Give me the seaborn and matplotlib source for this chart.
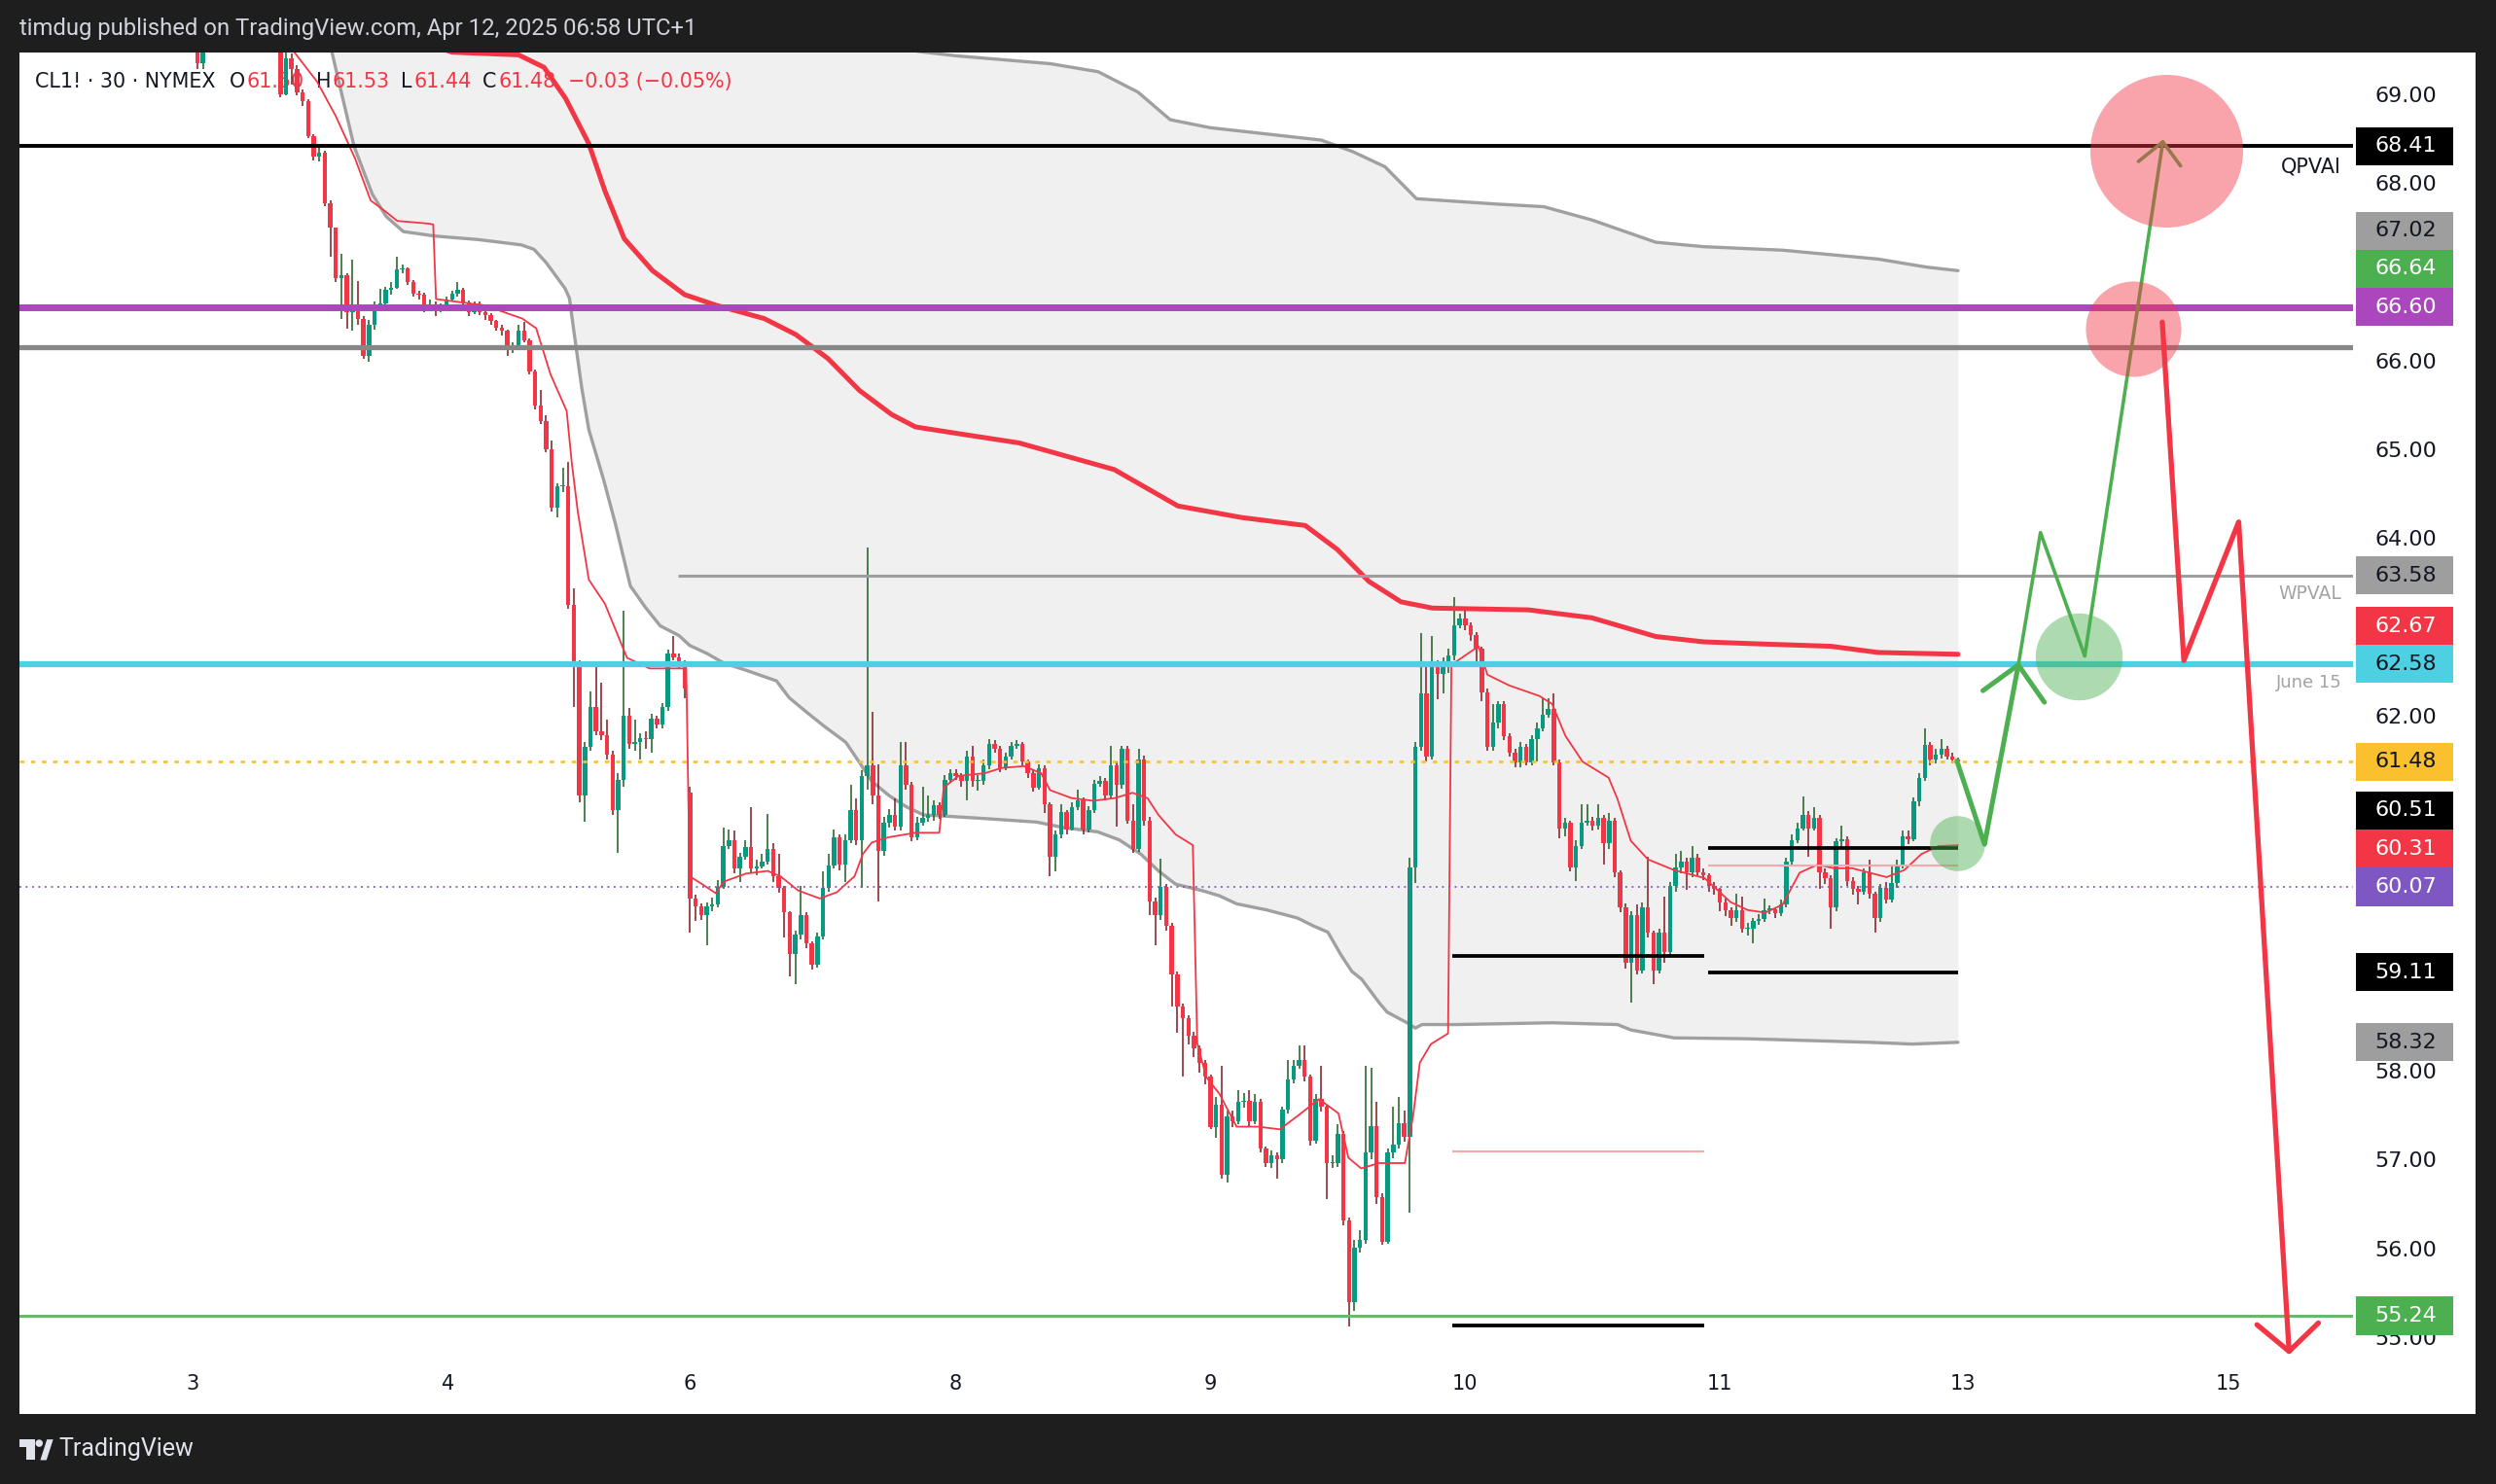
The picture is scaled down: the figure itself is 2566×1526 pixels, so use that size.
import numpy as np
import pandas as pd
import matplotlib
matplotlib.use("Agg")
import matplotlib.pyplot as plt
import seaborn as sns
from matplotlib.patches import Rectangle, Polygon, Ellipse
from matplotlib.transforms import blended_transform_factory

sns.set_style("white")
plt.rcParams['font.family'] = ['DejaVu Sans']
NARROW = ['Liberation Sans Narrow', 'Roboto', 'DejaVu Sans']

# ---- CL1! 30 min candles (bar index 0 .. 318) ----
first_open = 69.48
session_opens = {89: 61.13}   # weekend gap
closes = [
    69.35, 69.48, 69.62, 69.75, 69.85, 69.95, 70.05, 69.98, 69.90, 69.96,
    69.88, 69.80, 69.84, 69.72, 69.62, 69.00, 69.40, 69.28, 69.02, 68.92,
    68.53, 68.29, 68.34, 67.77, 67.49, 66.93, 66.96, 66.54, 66.57, 66.47,
    66.05, 66.40, 66.61, 66.64, 66.79, 66.82, 67.02, 67.03, 66.88, 66.75,
    66.74, 66.60, 66.63, 66.58, 66.60, 66.68, 66.75, 66.79, 66.65, 66.54,
    66.61, 66.54, 66.51, 66.44, 66.37, 66.33, 66.12, 66.15, 66.33, 66.23,
    65.87, 65.49, 65.32, 65.00, 64.34, 64.58, 64.58, 63.25, 62.59, 61.10,
    61.65, 62.10, 61.82, 61.78, 61.56, 60.93, 61.27, 62.00, 61.68, 61.70,
    61.75, 61.73, 61.96, 61.90, 62.10, 62.70, 62.66, 62.58, 62.30, 59.94,
    59.85, 59.75, 59.85, 59.87, 60.07, 60.53, 60.60, 60.28, 60.41, 60.52,
    60.28, 60.30, 60.35, 60.50, 60.19, 60.06, 59.78, 59.31, 59.53, 59.75,
    59.44, 59.19, 59.51, 60.06, 60.31, 60.63, 60.32, 60.60, 60.94, 60.60,
    61.32, 61.44, 61.10, 60.47, 60.79, 60.88, 60.75, 61.44, 61.22, 60.63,
    60.79, 60.85, 60.88, 60.99, 60.88, 61.27, 61.35, 61.32, 61.26, 61.54,
    61.26, 61.26, 61.44, 61.68, 61.63, 61.41, 61.54, 61.66, 61.68, 61.48,
    61.35, 61.19, 61.41, 61.00, 60.41, 60.66, 60.91, 60.72, 60.97, 61.04,
    60.72, 60.94, 61.23, 61.26, 61.10, 61.44, 61.22, 61.63, 60.82, 60.50,
    61.51, 60.82, 59.91, 59.75, 60.07, 59.63, 59.09, 58.72, 58.59, 58.40,
    58.25, 58.09, 57.93, 57.37, 57.62, 56.83, 57.49, 57.43, 57.65, 57.66,
    57.43, 57.65, 57.12, 56.96, 57.05, 57.00, 57.56, 57.90, 58.06, 58.12,
    57.93, 57.21, 57.68, 57.59, 56.96, 56.96, 57.29, 56.31, 55.39, 56.01,
    56.10, 57.08, 57.38, 56.58, 56.07, 57.08, 57.17, 57.41, 57.26, 60.29,
    61.65, 62.25, 61.54, 62.55, 62.47, 62.57, 62.68, 63.02, 63.09, 63.02,
    62.91, 62.75, 62.26, 61.65, 61.92, 62.13, 61.77, 61.58, 61.47, 61.65,
    61.47, 61.74, 61.86, 62.01, 62.07, 61.47, 60.73, 60.79, 60.29, 60.53,
    60.79, 60.82, 60.76, 60.85, 60.56, 60.82, 60.23, 59.84, 59.22, 59.75,
    59.13, 59.84, 59.55, 59.13, 59.55, 59.34, 60.08, 60.29, 60.36, 60.23,
    60.40, 60.23, 60.20, 60.08, 60.05, 59.90, 59.81, 59.72, 59.81, 59.60,
    59.60, 59.69, 59.71, 59.81, 59.82, 59.77, 59.87, 60.36, 60.60, 60.73,
    60.88, 60.73, 60.85, 60.23, 60.17, 59.84, 60.58, 60.61, 60.14, 60.05,
    60.02, 60.23, 59.99, 59.72, 60.06, 59.93, 60.11, 60.32, 60.64, 60.61,
    61.03, 61.30, 61.67, 61.50, 61.56, 61.62, 61.54, 61.50, 61.48,
]
highs = [
    69.55, 69.55, 69.70, 69.82, 69.92, 70.05, 70.12, 70.10, 70.00, 70.04,
    69.98, 69.92, 69.90, 69.86, 69.75, 69.62, 69.50, 69.45, 69.32, 69.05,
    68.94, 68.55, 68.40, 68.36, 67.80, 67.50, 67.20, 66.98, 67.13, 66.89,
    66.50, 66.45, 66.66, 66.80, 66.83, 66.88, 67.17, 67.08, 67.05, 66.90,
    66.78, 66.76, 66.68, 66.66, 66.64, 66.72, 66.78, 66.88, 66.82, 66.67,
    66.66, 66.66, 66.57, 66.53, 66.46, 66.40, 66.35, 66.20, 66.40, 66.43,
    66.25, 65.90, 65.67, 65.38, 65.10, 64.62, 64.79, 64.86, 63.43, 62.62,
    61.70, 62.27, 62.58, 62.37, 61.95, 61.60, 61.35, 63.18, 62.08, 61.95,
    61.80, 61.82, 62.02, 62.00, 62.14, 62.74, 62.90, 62.70, 62.62, 61.20,
    59.98, 59.88, 59.90, 59.95, 60.15, 60.74, 60.72, 60.70, 60.45, 60.60,
    60.97, 60.38, 60.44, 60.89, 60.56, 60.44, 60.08, 59.80, 59.58, 60.08,
    59.78, 59.46, 59.55, 60.25, 60.44, 60.72, 60.66, 60.66, 61.22, 61.07,
    61.38, 63.89, 62.04, 61.45, 60.86, 60.95, 61.07, 61.70, 61.70, 61.25,
    60.86, 61.20, 61.10, 61.05, 61.02, 61.33, 61.40, 61.40, 61.35, 61.60,
    61.66, 61.33, 61.50, 61.73, 61.72, 61.66, 61.58, 61.70, 61.72, 61.70,
    61.50, 61.38, 61.45, 61.44, 61.02, 60.70, 61.00, 60.94, 61.02, 61.16,
    61.08, 60.98, 61.28, 61.32, 61.30, 61.66, 61.48, 61.66, 61.66, 61.00,
    61.63, 61.55, 60.86, 59.95, 60.39, 60.10, 59.66, 59.12, 58.76, 58.62,
    58.44, 58.28, 58.12, 57.96, 57.70, 58.06, 57.55, 57.55, 57.78, 57.75,
    57.78, 57.74, 57.68, 57.15, 57.10, 57.08, 57.60, 58.12, 58.12, 58.28,
    58.28, 57.96, 57.74, 58.06, 57.62, 57.05, 57.40, 57.32, 56.35, 56.10,
    56.20, 58.06, 58.03, 57.65, 56.62, 57.12, 57.60, 57.70, 57.55, 60.40,
    61.70, 62.93, 62.55, 62.90, 62.62, 62.66, 62.75, 63.33, 63.15, 63.20,
    63.05, 62.94, 62.78, 62.30, 62.13, 62.16, 62.16, 61.80, 61.62, 61.70,
    61.68, 61.78, 61.92, 62.19, 62.20, 62.25, 61.50, 60.85, 60.82, 60.60,
    61.00, 61.00, 60.86, 61.00, 60.88, 60.90, 60.85, 60.26, 59.88, 59.80,
    59.87, 59.90, 60.41, 59.58, 59.60, 59.96, 60.12, 60.44, 60.47, 60.40,
    60.53, 60.44, 60.28, 60.22, 60.12, 60.06, 59.94, 59.84, 59.99, 59.96,
    59.66, 59.72, 59.76, 59.94, 59.86, 59.84, 59.93, 60.40, 60.66, 60.79,
    61.09, 60.92, 60.97, 60.88, 60.28, 60.20, 60.62, 60.76, 60.64, 60.18,
    60.08, 60.28, 60.38, 60.02, 60.10, 60.12, 60.32, 60.38, 60.70, 60.70,
    61.08, 61.35, 61.86, 61.70, 61.62, 61.74, 61.66, 61.58, 61.53,
]
lows = [
    69.28, 69.28, 69.47, 69.58, 69.70, 69.80, 69.90, 69.90, 69.82, 69.85,
    69.80, 69.72, 69.74, 69.65, 69.56, 68.96, 68.98, 69.10, 68.98, 68.86,
    68.50, 68.25, 68.24, 67.74, 67.17, 66.88, 66.47, 66.36, 66.33, 66.40,
    66.02, 65.98, 66.35, 66.55, 66.60, 66.74, 66.80, 66.98, 66.85, 66.72,
    66.68, 66.54, 66.56, 66.50, 66.54, 66.58, 66.66, 66.72, 66.62, 66.50,
    66.52, 66.51, 66.46, 66.40, 66.33, 66.28, 66.05, 66.08, 66.13, 66.20,
    65.84, 65.45, 65.28, 64.96, 64.30, 64.23, 64.52, 63.20, 62.10, 61.02,
    60.80, 61.60, 61.78, 61.72, 61.50, 60.88, 60.45, 61.20, 61.62, 61.60,
    61.50, 61.62, 61.58, 61.85, 61.85, 62.05, 62.62, 62.52, 62.20, 59.56,
    59.69, 59.70, 59.41, 59.80, 59.84, 60.05, 60.50, 60.22, 60.13, 60.38,
    60.22, 60.20, 60.28, 60.32, 60.12, 60.00, 59.50, 59.06, 58.97, 59.48,
    59.38, 59.14, 59.16, 59.48, 60.02, 60.28, 60.26, 60.13, 60.56, 60.54,
    60.06, 61.16, 61.00, 59.91, 60.42, 60.74, 60.70, 60.70, 61.16, 60.58,
    60.60, 60.76, 60.80, 60.82, 60.84, 60.86, 61.24, 61.28, 61.20, 61.04,
    61.20, 61.15, 61.22, 61.40, 61.58, 61.36, 61.38, 61.50, 61.62, 61.44,
    61.30, 61.14, 61.16, 60.90, 60.19, 60.25, 60.62, 60.66, 60.70, 60.94,
    60.66, 60.68, 60.90, 61.20, 61.05, 61.06, 60.75, 61.18, 60.78, 60.45,
    60.46, 60.76, 59.75, 59.41, 59.70, 59.58, 58.72, 58.43, 57.93, 58.30,
    58.15, 57.98, 57.85, 57.34, 57.24, 56.78, 56.74, 57.36, 57.40, 57.58,
    57.38, 57.40, 57.08, 56.92, 56.90, 56.78, 56.96, 57.52, 57.86, 58.02,
    57.88, 57.16, 57.18, 57.54, 56.55, 56.90, 56.92, 56.26, 55.12, 55.30,
    55.95, 56.05, 57.00, 56.50, 56.04, 56.05, 57.02, 57.12, 57.20, 56.40,
    60.11, 61.60, 61.48, 61.50, 62.18, 62.25, 62.48, 62.62, 62.98, 62.96,
    62.84, 62.57, 62.16, 61.60, 61.60, 61.85, 61.72, 61.54, 61.42, 61.42,
    61.44, 61.44, 61.48, 61.82, 61.98, 61.44, 60.62, 60.64, 60.24, 60.14,
    60.50, 60.76, 60.70, 60.72, 60.32, 60.50, 60.18, 59.78, 59.15, 58.77,
    59.08, 59.10, 59.50, 58.98, 59.10, 59.22, 59.30, 60.02, 60.22, 60.04,
    60.18, 60.20, 60.15, 60.02, 59.98, 59.80, 59.74, 59.63, 59.68, 59.56,
    59.52, 59.43, 59.64, 59.68, 59.76, 59.72, 59.74, 59.84, 60.30, 60.56,
    60.70, 60.41, 60.70, 60.05, 60.10, 59.60, 59.80, 60.52, 60.08, 59.98,
    59.87, 59.98, 59.94, 59.55, 59.68, 59.88, 59.90, 60.06, 60.28, 60.55,
    60.58, 60.98, 61.26, 61.44, 61.46, 61.52, 61.50, 61.46, 61.44,
]

# ---- indicator lines, (bar, price) vertices ----
session_vwap = [
    (16, 70.0), (17.5, 69.47), (21.6, 69.14), (25.0, 68.75), (28.5, 68.27), (31.3, 67.80),
    (33.9, 67.68), (36.1, 67.57), (41.7, 67.54), (42.6, 67.53), (43.1, 66.69), (51.8, 66.62),
    (58.7, 66.47), (61.2, 66.36), (63.8, 65.84), (66.7, 65.43), (67.6, 64.86), (68.7, 64.30),
    (70.7, 63.53), (73.6, 63.26), (77.6, 62.65), (81.7, 62.53), (88.3, 62.53), (88.9, 60.19),
    (91.2, 60.10), (93.6, 60.00), (95.1, 60.13), (99.1, 60.22), (103, 60.25), (105.3, 60.19),
    (108.5, 60.03), (112.4, 59.94), (115.5, 60.01), (118.7, 60.19), (120.2, 60.44), (121.8, 60.57),
    (124.9, 60.63), (129.7, 60.68), (134.0, 60.68), (134.8, 61.19), (137.5, 61.32), (142.2, 61.35),
    (145.3, 61.41), (149.3, 61.43), (152.4, 61.35), (154, 61.16), (157.9, 61.07), (161.8, 61.04),
    (165.7, 61.07), (168.9, 61.13), (171.6, 61.07), (173.6, 60.88), (176.7, 60.66), (179.8, 60.54),
    (180.6, 58.31), (182.2, 57.93), (184.6, 57.74), (187.7, 57.37), (191.6, 57.37), (195.5, 57.34),
    (198.7, 57.49), (202.6, 57.68), (206.1, 57.52), (207.9, 57.02), (210.2, 56.90), (213.4, 56.96),
    (218.1, 56.96), (219.6, 57.50), (220.8, 58.09), (222.8, 58.30), (225.9, 58.42), (226.5, 62.57),
    (231.4, 62.78), (233, 62.46), (236.9, 62.34), (242.4, 62.22), (244.7, 62.13), (247.1, 61.77),
    (250.2, 61.48), (254.9, 61.30), (256.5, 61.06), (258.9, 60.59), (262, 60.38), (266.7, 60.26),
    (272.2, 60.17), (276.9, 59.90), (280, 59.81), (283.2, 59.78), (286.3, 59.87), (289.4, 60.23),
    (292.6, 60.32), (295.7, 60.28), (298.9, 60.28), (302, 60.23), (305.1, 60.18), (308.3, 60.26),
    (311.4, 60.44), (314.5, 60.53), (318, 60.54),
]
anchored_vwap = [
    (40, 69.6), (46, 69.47), (58, 69.44), (62.6, 69.30), (66.5, 68.95), (70.7, 68.44),
    (73.6, 67.91), (77.1, 67.37), (82.2, 67.01), (88, 66.74), (93.7, 66.62), (102.4, 66.47),
    (108.1, 66.29), (113.9, 66.02), (119.6, 65.66), (125.4, 65.39), (129.7, 65.25), (136.9, 65.18),
    (148.4, 65.07), (165.6, 64.77), (177.1, 64.36), (188.6, 64.23), (200.1, 64.14), (205.9, 63.87),
    (211.6, 63.51), (217.4, 63.28), (223.1, 63.21), (240.4, 63.19), (251.9, 63.10), (263.4, 62.89),
    (272, 62.83), (280.6, 62.81), (295, 62.78), (303.6, 62.71), (318, 62.69),
]
band_upper = [
    (20, 71.0), (100, 70.2), (130.0, 69.48), (136.9, 69.43), (154.1, 69.34), (162.7, 69.25),
    (169.9, 69.02), (175.7, 68.71), (182.9, 68.62), (203, 68.48), (208.7, 68.35), (214.5, 68.18),
    (220.2, 67.82), (234.6, 67.76), (243.2, 67.73), (251.9, 67.58), (263.4, 67.33), (272, 67.28),
    (286.4, 67.24), (303.6, 67.14), (312.3, 67.05), (318, 67.01),
]
band_lower = [
    (20, 70.3), (24.3, 69.47), (28.3, 68.41), (31.6, 67.87), (34.1, 67.62), (37.2, 67.45),
    (42.8, 67.40), (50.7, 67.36), (58.5, 67.30), (60.8, 67.25), (63, 67.10), (66.4, 66.81),
    (67.2, 66.70), (68, 66.33), (69.4, 65.70),
    (70.7, 65.22), (73.4, 64.65), (75.5, 64.16), (78.2, 63.46), (80.9, 63.22), (83.6, 63.01),
    (87, 62.90), (88.9, 62.79), (92, 62.70), (95.1, 62.59), (99.1, 62.51), (104.6, 62.39),
    (106.9, 62.20), (110, 62.04), (113.2, 61.88), (117.1, 61.70), (119.5, 61.48), (121.8, 61.26),
    (124.9, 61.10), (128.1, 60.97), (131.2, 60.88), (134.4, 60.87), (142.2, 60.84), (151.6, 60.80),
    (156.3, 60.74), (162.6, 60.69), (166.5, 60.60), (170.4, 60.44), (173.6, 60.25), (176.7, 60.10),
    (181.4, 60.03), (184.6, 59.97), (187.7, 59.88), (193.2, 59.81), (198.7, 59.72), (201.6, 59.63),
    (204.2, 59.56), (206.5, 59.31), (208.5, 59.12), (210.3, 59.03), (213.4, 58.77), (214.9, 58.66),
    (218.5, 58.54), (220, 58.48), (221.2, 58.52), (227.5, 58.52), (244.7, 58.54), (256.5, 58.52),
    (258.9, 58.46), (266.7, 58.37), (280, 58.36), (302, 58.32), (309.8, 58.30), (318, 58.32),
]

# ---- price axis badges ----
badge_prices = [68.41, 67.02, 66.64, 66.60, 63.58, 62.67, 62.58, 61.48, 60.51, 60.31, 60.07, 59.11, 58.32, 55.24]
badge_fill = ['#000000', '#9e9e9e', '#4caf50', '#ab47bc', '#9e9e9e', '#f23645', '#4dd0e1',
              '#fbc02d', '#000000', '#f23645', '#7e57c2', '#000000', '#9e9e9e', '#4caf50']
badge_text = ['white', '#131722', 'white', 'white', '#131722', 'white', '#131722',
              '#131722', 'white', 'white', 'white', 'white', '#131722', 'white']
price_ticks = list(range(55, 70))

# time axis
tick_bars = [-0.86, 45.2, 88.9, 136.9, 182.9, 228.9, 274.9, 318.9, 366.9]
tick_days = ['3', '4', '6', '8', '9', '10', '11', '13', '15']

# drawn projection paths
green_leg1 = [(317.8, 61.49), (322.8, 60.55), (328.9, 62.57)]
green_head1 = [(322.5, 62.28), (328.9, 62.57), (333.6, 62.15)]
green_leg2 = [(328.9, 62.57), (332.9, 64.06), (340.9, 62.67), (355.0, 68.46)]
green_head2 = [(350.6, 68.24), (355.0, 68.46), (358.2, 68.19)]
red_leg = [(354.9, 66.43), (358.8, 62.62), (368.7, 64.18), (377.8, 54.84)]
red_head = [(372.0, 55.14), (377.8, 54.84), (383.1, 55.16)]
# circle highlights: bar, price, diameter (pt)
circles = [(355.7, 68.36, 113, '#f23645'), (349.7, 66.36, 70.6, '#f23645'),
           (339.8, 62.67, 64.4, '#4caf50'), (317.9, 60.56, 40.8, '#4caf50')]

# ---------------------------------------------------------------
n = len(closes)
c = np.array(closes)
o = np.r_[first_open, c[:-1]]
for k, v in session_opens.items():
    o[k] = v
df = pd.DataFrame({'bar': np.arange(n), 'open': o, 'high': highs, 'low': lows, 'close': c})
df['up'] = df['close'] >= df['open']

W, H = 1568.0, 932.0   # layout measured on the reference at this scale
def fx(x):
    return x / W
def fy(y):
    return 1 - y / H

fig = plt.figure(figsize=(25.66, 15.26), dpi=100)
fig.patch.set_facecolor('#1e1e1e')
fig.patches.append(Rectangle((fx(12), fy(888)), fx(1555) - fx(12), fy(33) - fy(888),
                             transform=fig.transFigure, fc='white', ec='none', zorder=-1))

ax = fig.add_axes([fx(12), fy(858), fx(1478) - fx(12), fy(33) - fy(858)])
ax.patch.set_alpha(0)
for s in ax.spines.values():
    s.set_visible(False)
XMIN, XMAX = -32.2, 389.3

# band fill + lines
grid = np.linspace(20, 318, 1500)
lx, ly = zip(*band_lower)
ux, uy = zip(*band_upper)
ax.fill_between(grid, np.interp(grid, lx, ly), np.interp(grid, ux, uy), color='#f0f0f0', lw=0, zorder=1)
sns.lineplot(x=list(lx), y=list(ly), ax=ax, color='#a0a0a0', lw=2.4, estimator=None, sort=False, zorder=2)
sns.lineplot(x=list(ux), y=list(uy), ax=ax, color='#a0a0a0', lw=2.4, estimator=None, sort=False, zorder=2)

# legend line (behind candles)
dark, red = '#131722', '#f23645'
renderer = fig.canvas.get_renderer()
pieces = [("CL1! · 30 · NYMEX", dark, 9), ("O", dark, 1), ("61.50", red, 7), ("H", dark, 1),
          ("61.53", red, 7), ("L", dark, 1), ("61.44", red, 7), ("C", dark, 1), ("61.48", red, 8),
          ("\u22120.03 (\u22120.05%)", red, 0)]
xcur = fx(22)
for txt, col, gap in pieces:
    t = ax.text(xcur, fy(51), txt, transform=fig.transFigure, color=col, fontsize=14.9,
                va='center', ha='left', zorder=2)
    bb = t.get_window_extent(renderer=renderer)
    xcur += bb.width / fig.bbox.width + fx(gap)

# candles
up, dn = df[df['up']], df[~df['up']]
ax.vlines(up['bar'], up['low'], up['high'], color='#1b5e20', lw=1.1, zorder=3)
ax.vlines(dn['bar'], dn['low'], dn['high'], color='#801922', lw=1.1, zorder=3)
body_lo = np.minimum(df['open'], df['close'])
body_h = np.maximum((df['close'] - df['open']).abs(), 0.015)
ax.bar(df['bar'], body_h, bottom=body_lo, width=0.78,
       color=np.where(df['up'], '#089981', '#f23645'), lw=0, zorder=4)

# indicator lines
vx, vy = zip(*session_vwap)
sns.lineplot(x=list(vx), y=list(vy), ax=ax, color='#f23645', lw=1.3, estimator=None, sort=False, zorder=5)
ax_, ay_ = zip(*anchored_vwap)
sns.lineplot(x=list(ax_), y=list(ay_), ax=ax, color='#f23645', lw=3.6, estimator=None, sort=False,
             zorder=5, solid_capstyle='round')

# horizontal levels
ax.axhline(68.41, color='black', lw=2.8, zorder=6)
ax.axhline(66.60, color='#ab47bc', lw=5.0, zorder=6)
ax.axhline(66.15, color='#878787', lw=3.8, zorder=6)
ax.axhline(62.58, color='#4dd0e1', lw=4.5, zorder=6)
ax.axhline(61.48, color='#fbc02d', lw=1.9, dashes=(1.7, 2.6), zorder=6)
ax.axhline(60.07, color='#7e57c2', lw=1.3, dashes=(1.0, 2.6), zorder=6)
ax.axhline(55.24, color='#66bb6a', lw=2.2, zorder=6)
ax.hlines(63.58, 86.8, XMAX, color='#9e9e9e', lw=2.2, zorder=6)
ax.hlines([59.29, 55.13], 226.7, 272.2, color='black', lw=2.7, zorder=6)
ax.hlines([60.51, 59.11], 272.8, 318, color='black', lw=2.7, zorder=6)
ax.hlines(57.09, 226.7, 272.2, color='#f7a8ae', lw=1.5, zorder=6)
ax.hlines(60.31, 272.8, 318, color='#f7a8ae', lw=1.5, zorder=6)

# projection paths
def path(pts, col, lw):
    px, py = zip(*pts)
    ax.plot(px, py, color=col, lw=lw, solid_capstyle='round', solid_joinstyle='round', zorder=7)
path(green_leg1, '#4caf50', 3.6)
path(green_head1, '#4caf50', 3.6)
path(green_leg2, '#4caf50', 2.6)
path(green_head2, '#4caf50', 2.6)
path(red_leg, '#f23645', 3.8)
path(red_head, '#f23645', 3.8)
for cx, cy, d, col in circles:
    ax.scatter([cx], [cy], s=d ** 2, color=col, alpha=0.45, lw=0, zorder=8, clip_on=False)

# level captions
bt = blended_transform_factory(ax.transAxes, ax.transData)
ax.text(0.9952, 68.18, "QPVAl", transform=bt, color='#131722', fontsize=15, ha='right', va='center', zorder=9)
ax.text(0.9952, 63.37, "WPVAL", transform=bt, color='#a3a3a3', fontsize=13.5, ha='right', va='center', zorder=9)
ax.text(0.9952, 62.37, "June 15", transform=bt, color='#a3a3a3', fontsize=13, ha='right', va='center', zorder=9)

# price badges, pushed apart like the price scale does
bh = 0.43
pos = {}
prev = -np.inf
for k in np.argsort(badge_prices):
    pos[k] = max(badge_prices[k], prev + bh)
    prev = pos[k]
for k, p in enumerate(badge_prices):
    ax.add_patch(Rectangle((1.00136, pos[k] - bh / 2), 0.04161, bh, transform=bt,
                           fc=badge_fill[k], ec='none', clip_on=False, zorder=10))
    ax.text(1.00955, pos[k], f"{p:.2f}", transform=bt, color=badge_text[k], fontsize=16,
            ha='left', va='center', clip_on=False, zorder=11)

# price labels covered by a badge are not shown (the bottom one peeks out)
shown = [v for v in price_ticks
         if v == price_ticks[0] or min(abs(v - q) for q in pos.values()) >= 0.3]

# axes, ticks
ax.set_xlim(XMIN, XMAX)
ax.set_ylim(54.673, 69.466)
ax.set_xlabel('')
ax.set_ylabel('')
ax.yaxis.tick_right()
ax.set_yticks(shown)
ax.set_yticklabels([f"{v}.00" for v in shown])
ax.set_xticks(tick_bars)
ax.set_xticklabels(tick_days)
ax.tick_params(axis='y', length=0, pad=16.5, labelsize=16, labelcolor='#131722')
ax.tick_params(axis='x', length=0, pad=6, labelsize=15, labelcolor='#131722')
ax.grid(False)

# header + footer
fig.text(fx(12), fy(18), "timdug published on TradingView.com, Apr 12, 2025 06:58 UTC+1",
         color='#d1d4dc', fontsize=17.2, family=NARROW, ha='left', va='center')
fig.text(fx(37), fy(910), "TradingView", color='#e0e3eb', fontsize=18, family=NARROW,
         ha='left', va='center')
logo_col = '#e0e3eb'
fig.patches.append(Polygon([(fx(12.3), fy(904)), (fx(21.7), fy(904)), (fx(21.7), fy(917)),
                            (fx(16.8), fy(917)), (fx(16.8), fy(908.5)), (fx(12.3), fy(908.5))],
                           closed=True, transform=fig.transFigure, fc=logo_col, ec='none'))
fig.patches.append(Ellipse((fx(24.6), fy(906.4)), 4.6 / W, 4.6 / H, transform=fig.transFigure,
                           fc=logo_col, ec='none'))
fig.patches.append(Polygon([(fx(25.3), fy(917)), (fx(29.2), fy(917)), (fx(33.4), fy(904)),
                            (fx(29.5), fy(904))], closed=True, transform=fig.transFigure,
                           fc=logo_col, ec='none'))

fig.savefig("out.png", dpi=100, facecolor=fig.get_facecolor())
